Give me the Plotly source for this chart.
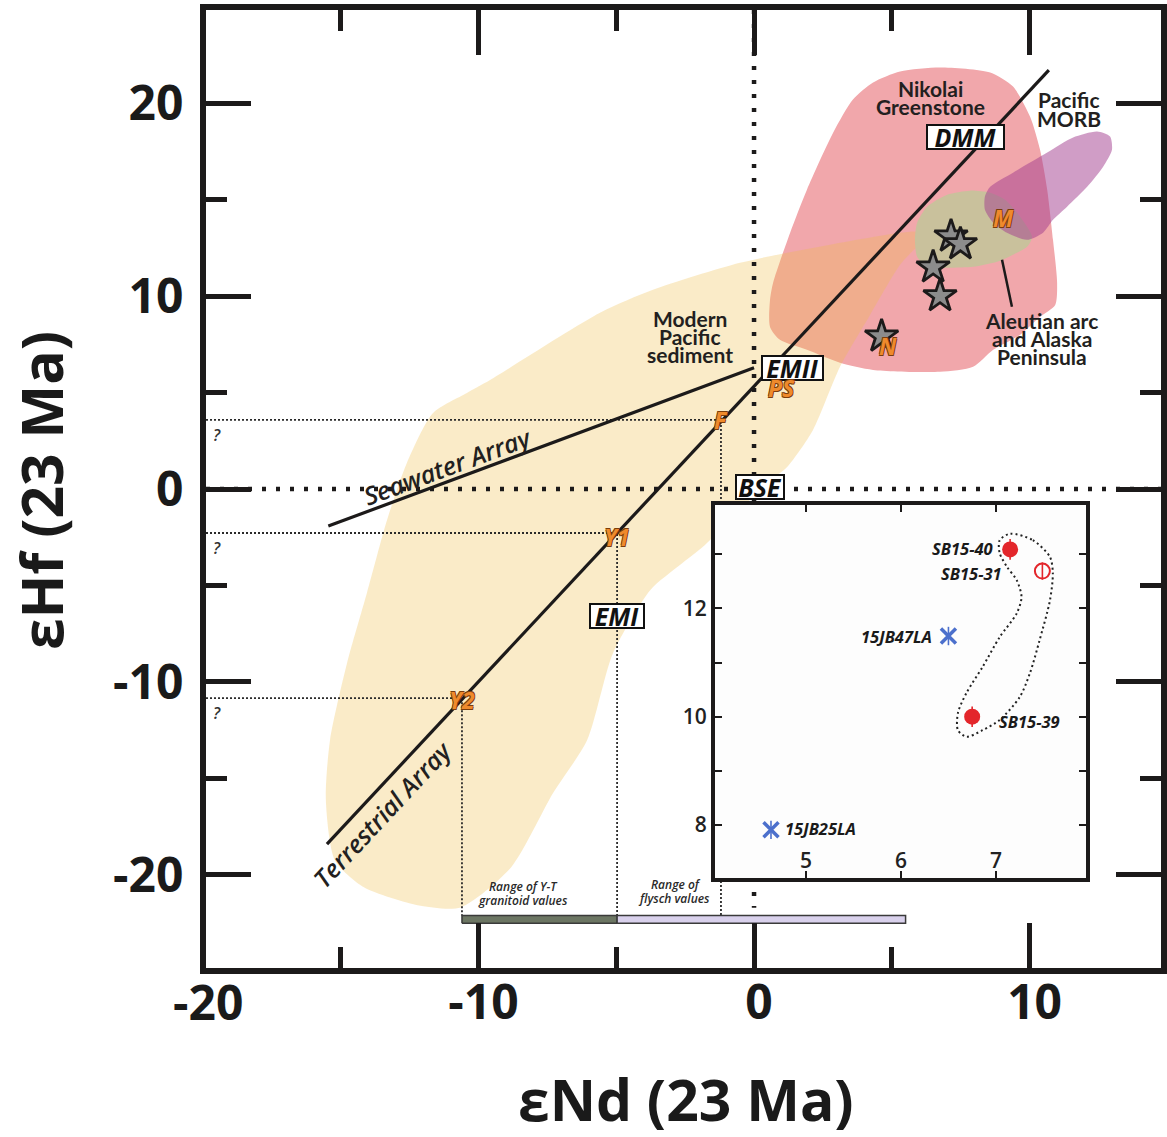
import plotly.graph_objects as go

# ---------------- samples (eNd, eHf recalculated to 23 Ma) ----------------
sample_names = ["SB15-40", "SB15-31", "15JB47LA", "SB15-39", "15JB25LA"]
sample_end = [7.15, 7.49, 6.50, 6.75, 4.63]
sample_ehf = [13.09, 12.69, 11.49, 10.00, 7.91]
sample_ehf_err = [0.19, 0.16, 0.17, 0.19, 0.17]
sample_kind = ["filled", "open", "cross", "filled", "cross"]

# ---------------- reference arrays ----------------
terrestrial_end = [-15.5, 10.7]
terrestrial_ehf = [-18.4, 21.7]
seawater_end = [-15.45, 0.0]
seawater_ehf = [-1.92, 6.28]

# ---------------- reservoirs (boxed labels) ----------------
reservoir_names = ["DMM", "EMII", "BSE", "EMI"]
reservoir_end = [7.66, 1.38, 0.22, -4.97]
reservoir_ehf = [18.26, 6.28, 0.10, -6.59]

# ---------------- end-member compositions ----------------
point_names = ["M", "N", "PS", "F", "Y1", "Y2"]
point_end = [9.04, 4.86, 0.98, -1.20, -4.97, -10.60]
point_ehf = [14.06, 7.42, 5.24, 3.58, -2.28, -10.84]
guide_names = ["F", "Y1", "Y2"]

# ---------------- ranges shown as bars ----------------
range_lo = [-10.60, -4.97]
range_hi = [-4.97, 5.50]
bar_top = -22.1
bar_bottom = -22.5

# ---------------- axis tick values ----------------
x_major = [-20, -10, 0, 10]
x_minor = [-15, -5, 5, 15]
y_major = [-20, -10, 0, 10, 20]
y_minor = [-25, -15, -5, 5, 15, 25]
inset_x_ticks = [5, 6, 7]
inset_y_major = [8, 10, 12]
inset_y_minor = [9, 11, 13]

# ---------------- compositional fields ----------------
nikolai_end = [4.32, 5.30, 6.75, 8.57, 9.40, 10.02, 10.38, 10.64, 10.85, 11.00, 10.93,
               10.38, 9.66, 8.68, 7.95, 6.75, 4.32, 3.12, 1.92, 0.94, 0.58, 0.58, 0.69,
               1.31, 1.92, 2.87, 3.59, 4.32]
nikolai_ehf = [21.06, 21.63, 21.84, 21.58, 20.85, 19.29, 17.58, 15.51, 12.91, 10.68, 9.54,
               8.92, 7.99, 7.21, 6.33, 6.07, 6.17, 6.54, 7.21, 7.73, 8.40, 9.80, 10.68,
               13.28, 15.51, 18.46, 20.18, 21.06]

sediment_end = [0.47, -0.51, -1.78, -2.69, -3.77, -5.12, -6.06, -7.30, -8.82, -10.64,
                -12.16, -14.16, -15.21, -15.54, -15.39, -14.77, -14.05, -13.32, -12.60,
                -11.65, -10.42, -9.58, -5.59, -3.67, -0.51, 2.76, 5.92, 6.21, 5.30, 4.21,
                3.12, 2.14, 1.20, 0.47]
sediment_ehf = [0.31, -1.09, -2.90, -3.94, -5.24, -8.51, -13.02, -15.77, -19.61, -21.68,
                -21.58, -20.64, -19.24, -16.13, -13.02, -9.02, -5.39, -1.61, 1.35,
                3.94, 4.98, 5.65, 9.13, 10.32, 11.72, 12.66, 13.33, 13.12, 11.62, 9.02,
                6.33, 3.06, 1.14, 0.31]

aleutian_end = [5.84, 5.92, 6.28, 7.01, 7.84, 8.57, 9.11, 9.66, 10.09, 9.91, 9.40, 8.82,
                7.95, 7.01, 6.28, 5.92, 5.84]
aleutian_ehf = [12.91, 13.80, 14.63, 15.25, 15.46, 15.35, 14.99, 14.11, 13.07, 12.55,
                12.14, 11.77, 11.51, 11.46, 11.51, 12.03, 12.91]

morb_end = [8.38, 8.57, 9.40, 10.64, 11.58, 12.45, 12.92, 12.99, 12.67, 12.09, 11.36,
            10.85, 10.49, 9.91, 9.18, 8.68, 8.38, 8.38]
morb_ehf = [15.15, 15.66, 16.39, 17.43, 18.21, 18.52, 18.26, 17.58, 16.70, 15.66, 14.63,
            13.95, 13.28, 12.91, 13.28, 13.80, 14.47, 15.15]

aleutian_leader_end = [9.00, 9.36]
aleutian_leader_ehf = [11.88, 9.44]

# field enclosing the whole-rock samples (inset)
wr_field_end = [7.15, 7.39, 7.57, 7.60, 7.57, 7.46, 7.36, 7.25, 7.04, 6.86, 6.69, 6.60,
                6.60, 6.69, 6.86, 7.04, 7.22, 7.27, 7.22, 7.12, 7.04, 7.04, 7.15]
wr_field_ehf = [13.38, 13.26, 12.95, 12.65, 12.15, 11.41, 10.81, 10.36, 9.94, 9.75,
                9.63, 9.75, 10.07, 10.44, 10.92, 11.47, 11.91, 12.21, 12.52, 12.76,
                13.02, 13.26, 13.38]

# ---------------- layout constants ----------------
X_RANGE = [-19.89, 14.77]
Y_RANGE = [-24.82, 24.82]
INSET_X_RANGE = [4.04, 7.95]
INSET_Y_RANGE = [7.02, 13.91]
INK = "#1c1a1a"
ORANGE = "#EF8A2C"
RED = "#E3262B"
BLUE = "#4C70CC"


def tick_text(values):
    # plain hyphen-minus, as typeset on the original axes
    return [str(v) for v in values]


fig = go.Figure()


def field(xs, ys, color):
    fig.add_trace(go.Scatter(
        x=xs, y=ys, mode="lines", fill="toself", fillcolor=color,
        line=dict(width=0, shape="spline", smoothing=0.7), hoverinfo="skip"))


field(nikolai_end, nikolai_ehf, "#F1A7AB")
field(sediment_end, sediment_ehf, "rgba(238,188,72,0.30)")
field(aleutian_end, aleutian_ehf, "#C9C19C")
field(morb_end, morb_ehf, "rgba(161,59,141,0.50)")

# zero reference lines (heavy dots)
fig.add_trace(go.Scatter(x=[0, 0], y=[Y_RANGE[1], bar_top + 0.4], mode="lines",
                         line=dict(color=INK, width=4.5, dash="4px,10px"), hoverinfo="skip"))
fig.add_trace(go.Scatter(x=[X_RANGE[0], X_RANGE[1]], y=[0, 0], mode="lines",
                         line=dict(color=INK, width=4.5, dash="4px,10px"), hoverinfo="skip"))

# projection guides from F, Y1, Y2
for name in guide_names:
    i = point_names.index(name)
    fig.add_trace(go.Scatter(
        x=[X_RANGE[0], point_end[i], point_end[i]],
        y=[point_ehf[i], point_ehf[i], bar_top],
        mode="lines", line=dict(color="#2a2a2a", width=1.8, dash="2px,2px"),
        hoverinfo="skip"))

# arrays
fig.add_trace(go.Scatter(x=terrestrial_end, y=terrestrial_ehf, mode="lines",
                         line=dict(color=INK, width=3.2), hoverinfo="skip"))
fig.add_trace(go.Scatter(x=seawater_end, y=seawater_ehf, mode="lines",
                         line=dict(color=INK, width=3.2), hoverinfo="skip"))
fig.add_trace(go.Scatter(x=aleutian_leader_end, y=aleutian_leader_ehf, mode="lines",
                         line=dict(color=INK, width=2.5), hoverinfo="skip"))

# range bars
for lo, hi, col in zip(range_lo, range_hi, ["#6C7663", "#D9D1EC"]):
    fig.add_trace(go.Scatter(
        x=[lo, hi, hi, lo, lo], y=[bar_bottom, bar_bottom, bar_top, bar_top, bar_bottom],
        mode="lines", fill="toself", fillcolor=col,
        line=dict(color="#3a3a3a", width=1.5), hoverinfo="skip"))

# samples in the main diagram
fig.add_trace(go.Scatter(
    x=sample_end, y=sample_ehf, mode="markers", hoverinfo="skip",
    marker=dict(symbol="star", size=25, color="#8C8C8C", line=dict(color=INK, width=2.8))))

# ---------------- inset ----------------
fig.add_trace(go.Scatter(
    x=[INSET_X_RANGE[0], INSET_X_RANGE[1], INSET_X_RANGE[1], INSET_X_RANGE[0], INSET_X_RANGE[0]],
    y=[INSET_Y_RANGE[0], INSET_Y_RANGE[0], INSET_Y_RANGE[1], INSET_Y_RANGE[1], INSET_Y_RANGE[0]],
    mode="lines", fill="toself", fillcolor="#FDFDFD", line=dict(width=0),
    xaxis="x2", yaxis="y2", hoverinfo="skip"))
fig.add_trace(go.Scatter(
    x=wr_field_end, y=wr_field_ehf, mode="lines", xaxis="x2", yaxis="y2",
    line=dict(color="#222", width=2, dash="2px,3px", shape="spline", smoothing=0.8),
    hoverinfo="skip"))

kind_style = {
    "filled": dict(symbol="circle", size=16, color=RED, line=dict(width=0)),
    "open": dict(symbol="circle-open", size=15, color=RED, line=dict(width=2, color=RED)),
    "cross": dict(symbol="x-thin-open", size=15, color=BLUE, line=dict(width=3.5, color=BLUE)),
}
for kind, style in kind_style.items():
    idx = [i for i, k in enumerate(sample_kind) if k == kind]
    fig.add_trace(go.Scatter(
        x=[sample_end[i] for i in idx], y=[sample_ehf[i] for i in idx],
        error_y=dict(type="data", array=[sample_ehf_err[i] for i in idx], visible=True,
                     width=0, thickness=1.6, color=style["color"]),
        mode="markers", marker=style, xaxis="x2", yaxis="y2", hoverinfo="skip"))

# ---------------- annotations ----------------
ann = []
label_font = dict(family="Lato", size=21, color="#231F20", weight="bold")


def text(x, y, s, font, **kw):
    d = dict(x=x, y=y, text=s, showarrow=False, font=font, xref="x", yref="y",
             xanchor="center", yanchor="middle")
    d.update(kw)
    ann.append(d)


for x, y, s in [(6.39, 20.75, "Nikolai"), (6.39, 19.80, "Greenstone"),
                (11.43, 20.17, "Pacific"), (11.43, 19.22, "MORB"),
                (-2.32, 8.86, "Modern"), (-2.32, 7.92, "Pacific"), (-2.32, 6.95, "sediment"),
                (10.45, 8.71, "Aleutian arc"), (10.45, 7.78, "and Alaska"),
                (10.45, 6.88, "Peninsula")]:
    text(x, y, s, label_font)

array_font = dict(family="Open Sans", size=25, color="#231F20", weight=600, style="italic")
text(-11.14, 1.19, "Seawater Array", array_font, textangle=-20.35)
text(-13.50, -16.86, "Terrestrial Array", array_font, textangle=-47)

box_font = dict(family="Open Sans", size=25, color="#111", weight="bold", style="italic")
box_w = {"DMM": 75, "EMII": 59, "BSE": 46, "EMI": 52}
for name, x, y in zip(reservoir_names, reservoir_end, reservoir_ehf):
    text(x, y, name, box_font, bgcolor="white", bordercolor="#111", borderwidth=2,
         borderpad=0, width=box_w[name], height=22)

orange_font = dict(family="Open Sans", size=23, color=ORANGE, weight="bold", style="italic",
                   shadow="0.7px 0.7px 0 #7a3d0c, -0.7px -0.7px 0 #7a3d0c, 0.7px -0.7px 0 #7a3d0c, -0.7px 0.7px 0 #7a3d0c")
point_shift = {"M": 0, "N": 0, "PS": 0, "F": 0, "Y1": -4, "Y2": -2}
for name, x, y in zip(point_names, point_end, point_ehf):
    text(x, y, name, orange_font, yshift=point_shift[name])

q_font = dict(family="Open Sans", size=16, color="#333", weight=600, style="italic")
for name in guide_names:
    i = point_names.index(name)
    text(X_RANGE[0] + 0.4, point_ehf[i], "?", q_font, yshift=-15)

range_font = dict(family="Open Sans", size=12, color="#2a2a2a", weight=600, style="italic")
for x, y, s in [(-8.35, -20.62, "Range of Y-T"), (-8.38, -21.34, "granitoid values"),
                (-2.83, -20.50, "Range of"), (-2.90, -21.20, "flysch values")]:
    text(x, y, s, range_font)

sample_font = dict(family="Open Sans", size=16.5, color="#1a1a1a", weight="bold", style="italic")
sample_label_pos = {"SB15-40": ("right", -15, 1), "SB15-31": ("right", -38, -2),
                    "15JB47LA": ("right", -14, 0), "SB15-39": ("left", 25, -5),
                    "15JB25LA": ("left", 12, 1)}
for name, x, y in zip(sample_names, sample_end, sample_ehf):
    anchor, dx, dy = sample_label_pos[name]
    ann.append(dict(x=x, y=y, text=name, showarrow=False, font=sample_font,
                    xref="x2", yref="y2", xanchor=anchor, yanchor="middle",
                    xshift=dx, yshift=dy))

title_font = dict(family="Open Sans", size=57, color="#1a1a1a", weight="bold")
ann.append(dict(x=0.5026, y=-0.137, xref="paper", yref="paper", text="εNd (23 Ma)",
                showarrow=False, font=title_font, xanchor="center", yanchor="middle",
                height=62))
ann.append(dict(x=-0.1728, y=0.499, xref="paper", yref="paper", text="εHf (23 Ma)",
                showarrow=False, font=title_font, textangle=-90,
                xanchor="center", yanchor="middle"))

tick_font = dict(family="Open Sans", size=48, color="#1a1a1a", weight="bold")

# the -20 label sits on the frame corner, just left of the plotted range
ann.append(dict(x=(x_major[0] - X_RANGE[0]) / (X_RANGE[1] - X_RANGE[0]), y=0,
                xref="paper", yref="paper", text=str(x_major[0]), showarrow=False,
                font=tick_font, xanchor="center", yanchor="top", xshift=5, yshift=1))

main_axis = dict(showgrid=False, zeroline=False, showline=True, linewidth=6, linecolor=INK,
                 mirror="ticks", ticks="inside", ticklen=45, tickwidth=5, tickcolor=INK,
                 tickfont=tick_font, automargin=False)
main_minor = dict(ticks="inside", ticklen=21, tickwidth=5, tickcolor=INK, showgrid=False)
inset_font = dict(family="Open Sans", size=21, color="#222", weight=600)
inset_axis = dict(showgrid=False, zeroline=False, showline=True, linewidth=4, linecolor=INK,
                  mirror="ticks", ticks="inside", ticklen=7, tickwidth=2, tickcolor=INK,
                  tickfont=inset_font, automargin=False)

fig.update_layout(
    width=1167, height=1137, template="none", showlegend=False,
    paper_bgcolor="white", plot_bgcolor="white",
    margin=dict(l=206, r=6, t=10, b=169),
    xaxis=dict(main_axis, range=X_RANGE, tickvals=x_major, ticktext=tick_text(x_major),
               domain=[0, 1], ticklabelstandoff=-13, ticklabelshift=5,
               minor=dict(main_minor, tickvals=x_minor)),
    yaxis=dict(main_axis, range=Y_RANGE, tickvals=y_major, ticktext=tick_text(y_major),
               domain=[0, 1], ticklabelstandoff=7,
               minor=dict(main_minor, tickvals=y_minor)),
    xaxis2=dict(inset_axis, range=INSET_X_RANGE, domain=[0.533, 0.9215], anchor="y2",
                tickvals=inset_x_ticks, ticktext=tick_text(inset_x_ticks),
                ticklabelposition="inside"),
    yaxis2=dict(inset_axis, range=INSET_Y_RANGE, domain=[0.0939, 0.4833], anchor="x2",
                tickvals=inset_y_major, ticktext=tick_text(inset_y_major),
                ticklabelstandoff=0,
                minor=dict(ticks="inside", ticklen=7, tickwidth=2, tickcolor=INK,
                           tickvals=inset_y_minor)),
    annotations=ann,
)

fig.write_html("out.html")
